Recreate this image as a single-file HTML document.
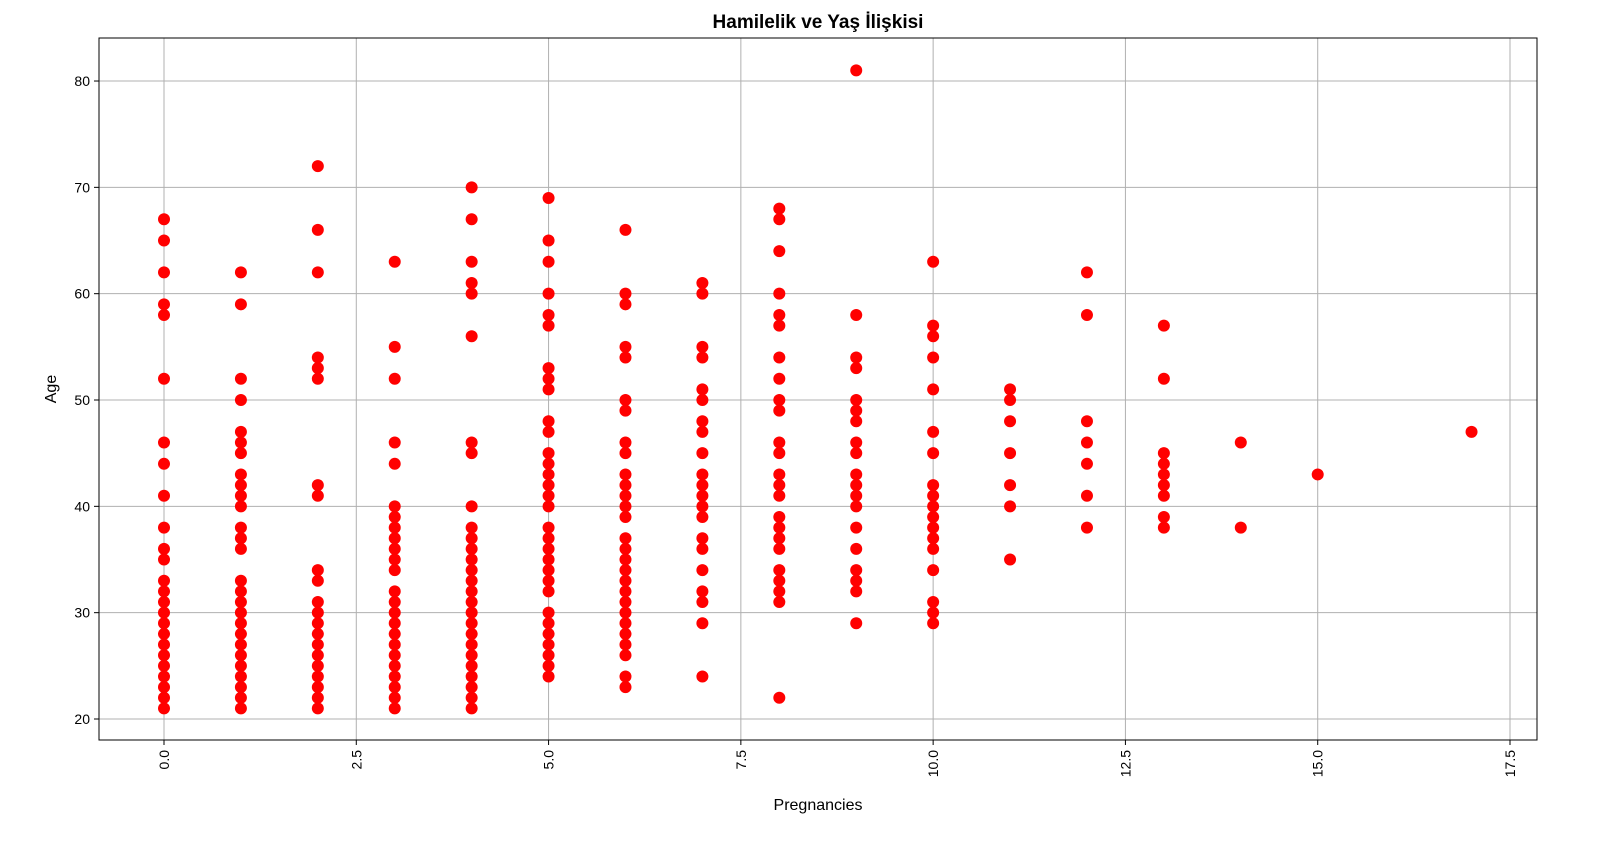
<!DOCTYPE html>
<html><head><meta charset="utf-8"><style>
body{margin:0;background:#fff;}
svg text{font-family:"Liberation Sans","DejaVu Sans",sans-serif;}
</style></head><body>
<svg id="chart" width="1622" height="853">
<g id="grid"></g>
<g id="pts"></g>
<rect x="99" y="38" width="1438" height="702" fill="none" stroke="#000" stroke-width="1"/>
<g id="ticks"></g>
<text x="818" y="28" text-anchor="middle" font-size="19" font-weight="bold">Hamilelik ve Yaş İlişkisi</text>
<text x="818" y="810" text-anchor="middle" font-size="16">Pregnancies</text>
<text transform="translate(56,389) rotate(-90)" text-anchor="middle" font-size="16">Age</text>
</svg>
<script>
const groupX=[0,1,2,3,4,5,6,7,8,9,10,11,12,13,14,15,17];
const groupAges=[
[67,65,62,59,58,52,46,44,41,38,36,35,33,32,31,30,29,28,27,26,25,24,23,22,21],
[62,59,52,50,47,46,45,43,42,41,40,38,37,36,33,32,31,30,29,28,27,26,25,24,23,22,21],
[72,66,62,54,53,52,42,41,34,33,31,30,29,28,27,26,25,24,23,22,21],
[63,55,52,46,44,40,39,38,37,36,35,34,32,31,30,29,28,27,26,25,24,23,22,21],
[70,67,63,61,60,56,46,45,40,38,37,36,35,34,33,32,31,30,29,28,27,26,25,24,23,22,21],
[69,65,63,60,58,57,53,52,51,48,47,45,44,43,42,41,40,38,37,36,35,34,33,32,30,29,28,27,26,25,24],
[66,60,59,55,54,50,49,46,45,43,42,41,40,39,37,36,35,34,33,32,31,30,29,28,27,26,24,23],
[61,60,55,54,51,50,48,47,45,43,42,41,40,39,37,36,34,32,31,29,24],
[68,67,64,60,58,57,54,52,50,49,46,45,43,42,41,39,38,37,36,34,33,32,31,22],
[81,58,54,53,50,49,48,46,45,43,42,41,40,38,36,34,33,32,29],
[63,57,56,54,51,47,45,42,41,40,39,38,37,36,34,31,30,29],
[51,50,48,45,42,40,35],
[62,58,48,46,44,41,38],
[57,52,45,44,43,42,41,39,38],
[46,38],
[43],
[47]];
const xTicks=[0,2.5,5,7.5,10,12.5,15,17.5];
const yTicks=[20,30,40,50,60,70,80];
const NS='http://www.w3.org/2000/svg';
const sx=v=>164+v*76.914, sy=v=>719-(v-20)*10.633;
function mk(t,a,p){const e=document.createElementNS(NS,t);for(const k in a)e.setAttribute(k,a[k]);p.appendChild(e);return e;}
const grid=document.getElementById('grid'),ticks=document.getElementById('ticks'),pts=document.getElementById('pts');
xTicks.forEach(v=>{const x=sx(v);
 const g=mk('line',{x1:x,x2:x,y1:38,y2:740,stroke:'#b0b0b0','stroke-width':1},grid);
 
 
 const t=mk('line',{x1:x,x2:x,y1:740,y2:745,stroke:'#000'},ticks);
 
 
 const l=mk('text',{transform:`translate(${x+5},750) rotate(-90)`,'text-anchor':'end','font-size':14},ticks);
 l.textContent=v.toFixed(1);
 
 
});
yTicks.forEach(v=>{const y=sy(v);
 const g=mk('line',{x1:99,x2:1537,y1:y,y2:y,stroke:'#b0b0b0','stroke-width':1},grid);
 
 
 const t=mk('line',{x1:94,x2:99,y1:y,y2:y,stroke:'#000'},ticks);
 
 
 const l=mk('text',{x:90,y:y+5,'text-anchor':'end','font-size':14},ticks);
 l.textContent=v;
 
 
});
groupX.forEach((gx,i)=>groupAges[i].forEach(a=>{
 const c=mk('circle',{cx:sx(gx),cy:sy(a),r:6,fill:'#ff0000'},pts);
 
 
}));
</script>
</body></html>
